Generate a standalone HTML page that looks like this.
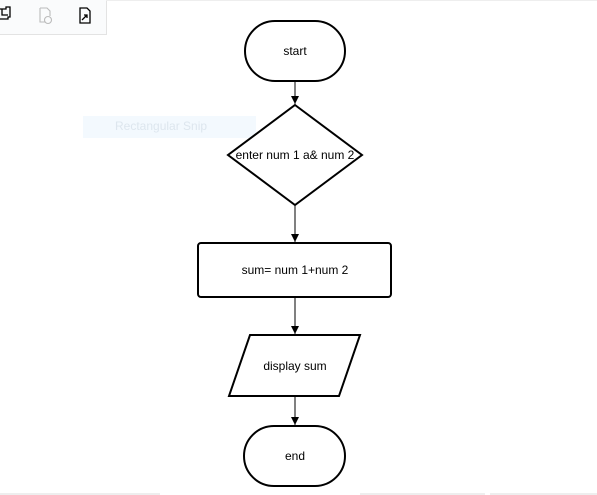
<!DOCTYPE html>
<html><head><style>
body{margin:0;width:597px;height:495px;background:#fff;overflow:hidden;position:relative;font-family:"Liberation Sans",sans-serif}
</style></head><body>
<div style="position:absolute;left:0;top:0;width:106px;height:34px;background:#fafbfc;border-right:1px solid #e3e3e3;border-bottom:1px solid #e3e3e3"></div>
<div style="position:absolute;left:106px;top:0;width:491px;height:1px;background:#eee"></div>
<div style="position:absolute;left:83px;top:116px;width:173px;height:22px;background:#f3f9fe"></div>
<div style="position:absolute;left:115px;top:119px;font-size:12px;color:#dde6ee">Rectangular Snip</div>
<svg width="597" height="495" style="position:absolute;left:0;top:0">
<g fill="none" stroke="#000" stroke-width="1.3">
<path d="M0 9h6v-2h4v10h-2v2h-8" /><path d="M2 9v6h6"/>
<path d="M80 8h7l3 3v12h-10z M82 20l5-5 M84 15h3v3" />
</g>
<g fill="none" stroke="#bbb" stroke-width="1.1"><path d="M40 8h7l3 3v5 M40 8v14h5"/><circle cx="48" cy="20" r="3.5"/></g>
<defs><marker id="a" markerWidth="9" markerHeight="9" refX="8" refY="4" orient="auto" markerUnits="userSpaceOnUse"><path d="M0 0L8 4L0 8z" fill="#000"/></marker></defs>
<g stroke="#000" stroke-width="1" fill="none">
<line x1="295" y1="81" x2="295" y2="104" marker-end="url(#a)"/>
<line x1="295" y1="205" x2="295" y2="242" marker-end="url(#a)"/>
<line x1="295" y1="297" x2="295" y2="334" marker-end="url(#a)"/>
<line x1="295" y1="396" x2="295" y2="425" marker-end="url(#a)"/>
</g>
<g stroke="#000" stroke-width="2" fill="#fff">
<rect x="245" y="21" width="100" height="60" rx="30"/>
<path d="M295 105L362 155L295 205L228 155z"/>
<rect x="198" y="243" width="193" height="54" rx="3"/>
<path d="M250 335H360L339 396H229z"/>
<rect x="244" y="426" width="101" height="60" rx="30"/>
</g>
<g font-size="12" text-anchor="middle" fill="#000" font-family="Liberation Sans,sans-serif">
<text x="295" y="55">start</text>
<text x="295" y="159">enter num 1 a&amp; num 2</text>
<text x="295" y="274">sum= num 1+num 2</text>
<text x="295" y="370">display sum</text>
<text x="295" y="460">end</text>
</g>
</svg>
<div style="position:absolute;left:0;top:493px;width:160px;height:2px;background:#eee"></div>
<div style="position:absolute;left:360px;top:493px;width:125px;height:2px;background:#eee"></div>
<div style="position:absolute;left:490px;top:493px;width:107px;height:2px;background:#eee"></div>
</body></html>
